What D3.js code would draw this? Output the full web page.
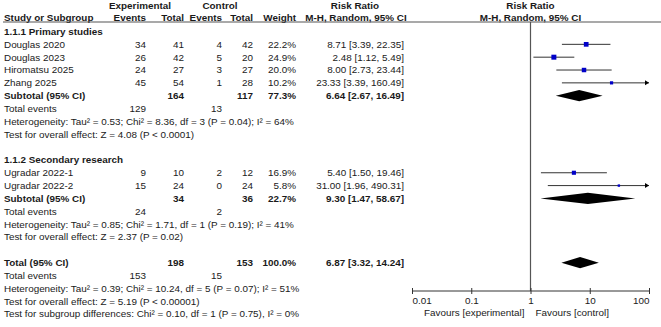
<!DOCTYPE html>
<html>
<head>
<meta charset="utf-8">
<script src="https://cdn.jsdelivr.net/npm/d3@7"></script>
<style>
  body { margin: 0; background: #fff; }
  svg { font-family: "Liberation Sans", Arial, sans-serif; font-size: 9.9px; fill: #1a1a1a; }
  .b { font-weight: bold; }
</style>
</head>
<body>
<svg id="chart" width="661" height="327"></svg>
<script>
// study level data
const studies = ["Douglas 2020", "Douglas 2023", "Hiromatsu 2025", "Zhang 2025", "Ugradar 2022-1", "Ugradar 2022-2"];
const studyGroup = [0, 0, 0, 0, 1, 1];
const expEvents = [34, 26, 24, 45, 9, 15];
const expTotal = [41, 42, 27, 54, 10, 24];
const ctrlEvents = [4, 5, 3, 1, 2, 0];
const ctrlTotal = [42, 20, 27, 28, 12, 24];
const weights = [22.2, 24.9, 20.0, 10.2, 16.9, 5.8];
const rr = [8.71, 2.48, 8.00, 23.33, 5.40, 31.00];
const rrLow = [3.39, 1.12, 2.73, 3.39, 1.50, 1.96];
const rrHigh = [22.35, 5.49, 23.44, 160.49, 19.46, 490.31];

// subgroups
const groups = ["1.1.1 Primary studies", "1.1.2 Secondary research"];
const subExpTotal = [164, 34];
const subCtrlTotal = [117, 36];
const subWeight = [77.3, 22.7];
const subRR = [6.64, 9.30];
const subLow = [2.67, 1.47];
const subHigh = [16.49, 58.67];
const subExpEvents = [129, 24];
const subCtrlEvents = [13, 2];
const subHet = ["Heterogeneity: Tau² = 0.53; Chi² = 8.36, df = 3 (P = 0.04); I² = 64%",
                "Heterogeneity: Tau² = 0.85; Chi² = 1.71, df = 1 (P = 0.19); I² = 41%"];
const subTest = ["Test for overall effect: Z = 4.08 (P < 0.0001)",
                 "Test for overall effect: Z = 2.37 (P = 0.02)"];

// overall
const totExpTotal = 198, totCtrlTotal = 153, totWeight = 100.0;
const totRR = 6.87, totLow = 3.32, totHigh = 14.24;
const totExpEvents = 153, totCtrlEvents = 15;
const totHet = "Heterogeneity: Tau² = 0.39; Chi² = 10.24, df = 5 (P = 0.07); I² = 51%";
const totTest = "Test for overall effect: Z = 5.19 (P < 0.00001)";
const subgroupTest = "Test for subgroup differences: Chi² = 0.10, df = 1 (P = 0.75), I² = 0%";

const axisTicks = [0.01, 0.1, 1, 10, 100];
const axisLabels = ["0.01", "0.1", "1", "10", "100"];

// layout
const COL = { study: 4, expEv: 146, expTot: 184, ctrlEv: 222, ctrlTot: 253, weight: 296, ci: 404 };
const PLOT = { left: 412, right: 649, top: 22, axisY: 291 };

const svg = d3.select("#chart");
const fmt2 = d3.format(".2f");
const fmt1 = d3.format(".1f");
const ciText = (m, l, h) => `${fmt2(m)} [${fmt2(l)}, ${fmt2(h)}]`;

// build the list of rows
let rows = [];
groups.forEach((g, gi) => {
  rows.push({ type: "group", label: g });
  studies.forEach((s, i) => {
    if (studyGroup[i] === gi) rows.push({ type: "study", i: i });
  });
  rows.push({ type: "subtotal", g: gi });
  rows.push({ type: "events", e: subExpEvents[gi], c: subCtrlEvents[gi] });
  rows.push({ type: "note", label: subHet[gi] });
  rows.push({ type: "note", label: subTest[gi] });
  rows.push({ type: "blank" });
});
rows.push({ type: "total" });
rows.push({ type: "events", e: totExpEvents, c: totCtrlEvents });
rows.push({ type: "note", label: totHet });
rows.push({ type: "note", label: totTest });
rows.push({ type: "note", label: subgroupTest });

const y = d3.scaleLinear().domain([0, rows.length - 1]).range([31.5, 314]);
const x = d3.scaleLog().domain([0.01, 100]).range([PLOT.left, PLOT.right]);

function txt(xp, yp, s, anchor, bold) {
  svg.append("text")
    .attr("x", xp).attr("y", yp).attr("dy", "0.35em")
    .attr("text-anchor", anchor || "start")
    .attr("class", bold ? "b" : null)
    .text(s);
}

// header
txt(140, 6, "Experimental", "middle", true);
txt(220, 6, "Control", "middle", true);
txt(355, 6, "Risk Ratio", "middle", true);
txt(x(1), 6, "Risk Ratio", "middle", true);
txt(COL.study, 17.5, "Study or Subgroup", "start", true);
txt(COL.expEv, 17.5, "Events", "end", true);
txt(COL.expTot, 17.5, "Total", "end", true);
txt(COL.ctrlEv, 17.5, "Events", "end", true);
txt(COL.ctrlTot, 17.5, "Total", "end", true);
txt(COL.weight, 17.5, "Weight", "end", true);
txt(356, 17.5, "M-H, Random, 95% CI", "middle", true);
txt(x(1), 17.5, "M-H, Random, 95% CI", "middle", true);

svg.append("line")
  .attr("x1", 3).attr("x2", 661).attr("y1", PLOT.top).attr("y2", PLOT.top)
  .attr("stroke", "#555").attr("stroke-width", 1.2);

// line of no effect
svg.append("line")
  .attr("x1", x(1)).attr("x2", x(1)).attr("y1", PLOT.top).attr("y2", PLOT.axisY)
  .attr("stroke", "#555").attr("stroke-width", 1.2);

function diamond(yc, m, l, h) {
  const hh = 5.6;
  svg.append("path")
    .attr("d", `M${x(l)},${yc}L${x(m)},${yc - hh}L${x(h)},${yc}L${x(m)},${yc + hh}Z`)
    .attr("fill", "#000");
}

rows.forEach((r, k) => {
  const yc = y(k);
  if (r.type === "group") {
    txt(COL.study, yc, r.label, "start", true);
  } else if (r.type === "study") {
    const i = r.i;
    txt(COL.study, yc, studies[i]);
    txt(COL.expEv, yc, expEvents[i], "end");
    txt(COL.expTot, yc, expTotal[i], "end");
    txt(COL.ctrlEv, yc, ctrlEvents[i], "end");
    txt(COL.ctrlTot, yc, ctrlTotal[i], "end");
    txt(COL.weight, yc, fmt1(weights[i]) + "%", "end");
    txt(COL.ci, yc, ciText(rr[i], rrLow[i], rrHigh[i]), "end");
    // CI line, clipped to the axis with an arrow
    const x1 = Math.max(x(rrLow[i]), PLOT.left);
    const x2 = Math.min(x(rrHigh[i]), PLOT.right);
    svg.append("line")
      .attr("x1", x1).attr("x2", x2).attr("y1", yc).attr("y2", yc)
      .attr("stroke", "#333").attr("stroke-width", 1);
    if (rrHigh[i] > 100) {
      svg.append("path")
        .attr("d", `M${PLOT.right},${yc}L${PLOT.right - 4},${yc - 2.5}L${PLOT.right - 4},${yc + 2.5}Z`)
        .attr("fill", "#000");
    }
    const side = Math.sqrt(weights[i]) * 1.0;
    svg.append("rect")
      .attr("x", x(rr[i]) - side / 2).attr("y", yc - side / 2)
      .attr("width", side).attr("height", side)
      .attr("fill", "#0000c8");
  } else if (r.type === "subtotal") {
    const g = r.g;
    txt(COL.study, yc, "Subtotal (95% CI)", "start", true);
    txt(COL.expTot, yc, subExpTotal[g], "end", true);
    txt(COL.ctrlTot, yc, subCtrlTotal[g], "end", true);
    txt(COL.weight, yc, fmt1(subWeight[g]) + "%", "end", true);
    txt(COL.ci, yc, ciText(subRR[g], subLow[g], subHigh[g]), "end", true);
    diamond(yc, subRR[g], subLow[g], subHigh[g]);
  } else if (r.type === "events") {
    txt(COL.study, yc, "Total events");
    txt(COL.expEv, yc, r.e, "end");
    txt(COL.ctrlEv, yc, r.c, "end");
  } else if (r.type === "note") {
    txt(COL.study, yc, r.label);
  } else if (r.type === "total") {
    txt(COL.study, yc, "Total (95% CI)", "start", true);
    txt(COL.expTot, yc, totExpTotal, "end", true);
    txt(COL.ctrlTot, yc, totCtrlTotal, "end", true);
    txt(COL.weight, yc, fmt1(totWeight) + "%", "end", true);
    txt(COL.ci, yc, ciText(totRR, totLow, totHigh), "end", true);
    diamond(yc, totRR, totLow, totHigh);
  }
});

// bottom axis
const axis = svg.append("g")
  .attr("transform", `translate(0,${PLOT.axisY})`)
  .call(d3.axisBottom(x).tickValues(axisTicks).tickFormat((d, i) => axisLabels[i]).tickSize(3).tickPadding(3));
axis.select(".domain").attr("stroke", "#333").attr("d", `M${PLOT.left},0H${PLOT.right}`);
axis.selectAll(".tick line").attr("y1", -3).attr("y2", 3).attr("stroke", "#333");
axis.selectAll(".tick text")
  .attr("font-family", "Liberation Sans, Arial, sans-serif")
  .attr("font-size", "9.9px").attr("fill", "#1a1a1a")
  .attr("text-anchor", (d, i) => i === 0 ? "start" : (i === axisTicks.length - 1 ? "end" : "middle"));

txt(x(1) - 6, 312.5, "Favours [experimental]", "end");
txt(x(1) + 5, 312.5, "Favours [control]", "start");
</script>
</body>
</html>
